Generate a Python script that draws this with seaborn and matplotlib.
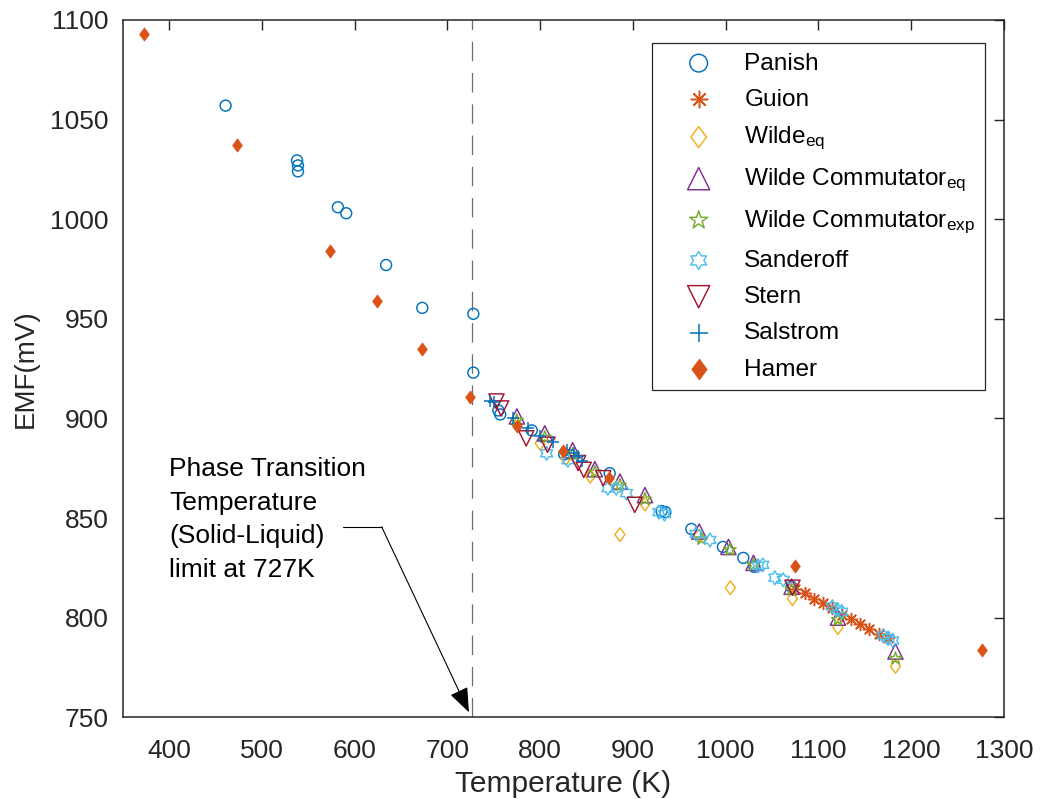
import warnings
warnings.filterwarnings('ignore')
import numpy as np
import pandas as pd
import matplotlib
matplotlib.use('Agg')
import matplotlib.pyplot as plt
import seaborn as sns
from matplotlib.path import Path

# ---------------- data (Temperature K, EMF mV) ----------------
panish_T = [461, 538, 539, 539, 582, 591, 634, 673, 728, 728, 755, 757, 791, 826, 875,
            931, 935, 963, 997, 1019, 1031, 1071]
panish_E = [1057, 1029.5, 1027, 1024, 1006, 1003, 977, 955.5, 952.5, 923, 904, 902, 894, 882, 872.5,
            853.5, 853, 844.5, 835.5, 830, 825.5, 815.5]

guion_T = [1075, 1085, 1095, 1105, 1115, 1125, 1135, 1145, 1155, 1165, 1175]
guion_E = [814.5, 812.3, 809.5, 807.3, 804.7, 801.5, 799.4, 797, 794.2, 791.7, 789.7]

wilde_eq_T = [775, 800, 828, 854, 886, 913, 971, 1005, 1072, 1121, 1183]
wilde_eq_E = [897, 887.5, 880, 871, 841.7, 857, 841, 815, 809.5, 795, 775.5]

wc_eq_T = [775, 805, 835, 859, 886, 913, 971.5, 1003, 1030, 1071, 1121, 1183]
wc_eq_E = [901, 892.5, 884, 874.5, 868.3, 861.5, 843.2, 835.5, 827.5, 815.5, 800, 783]

wc_exp_T = [775, 805, 835, 859, 886, 913, 974, 1004.5, 1030, 1071, 1121, 1183]
wc_exp_E = [899, 890.5, 882, 873, 866.5, 859.5, 839.5, 834, 826.5, 814, 799, 779.5]

sanderoff_T = [807, 830, 873, 882, 893, 928, 934, 968, 983, 1035, 1040, 1053, 1062,
               1115, 1120, 1125, 1170, 1175, 1180]
sanderoff_E = [882.5, 879, 865, 865, 862.5, 853, 852, 842, 839, 826, 826.5, 820, 819,
               805.5, 804, 803, 791, 789.7, 788.5]

stern_T = [753, 758, 785, 808, 841, 847, 868, 902, 1072]
stern_E = [908.5, 905, 890, 886.8, 877.6, 874.2, 870, 856.6, 815]

salstrom_T = [746, 750, 771, 787, 800, 814, 829, 837, 841, 845]
salstrom_E = [908.5, 908, 900.2, 895.2, 891, 888.4, 884, 882.6, 880.9, 878.4]

hamer_T = [373, 473, 573, 624, 673, 724, 775, 825, 874, 1075, 1276]
hamer_E = [1093, 1037, 984, 959, 935, 911, 896, 883.5, 870, 826, 784]

x_ticks = [400, 500, 600, 700, 800, 900, 1000, 1100, 1200, 1300]
y_ticks = [750, 800, 850, 900, 950, 1000, 1050, 1100]
transition_T = 727

# ---------------- marker shapes ----------------
def hexagram_path():
    verts = []
    for k in range(12):
        ang = np.deg2rad(90 + 30 * k)
        r = 1.0 if k % 2 == 0 else 1 / np.sqrt(3)
        verts.append((r * np.cos(ang), r * np.sin(ang)))
    verts.append(verts[0])
    codes = [Path.MOVETO] + [Path.LINETO] * 11 + [Path.CLOSEPOLY]
    return Path(verts, codes)

def diamond_path(w=0.74):
    verts = [(0, 1), (w, 0), (0, -1), (-w, 0), (0, 1)]
    codes = [Path.MOVETO, Path.LINETO, Path.LINETO, Path.LINETO, Path.CLOSEPOLY]
    return Path(verts, codes)

HEX = hexagram_path()
DIA = diamond_path()
AST = (8, 2, 0)

# ---------------- style ----------------
sns.set_theme(style='white')
plt.rcParams['font.family'] = ['Liberation Sans', 'DejaVu Sans']
plt.rcParams['mathtext.fontset'] = 'custom'
plt.rcParams['mathtext.rm'] = 'Liberation Sans'
plt.rcParams['mathtext.it'] = 'Liberation Sans:italic'
plt.rcParams['lines.scale_dashes'] = False

AX_COL = '#262626'
fig = plt.figure(figsize=(10.4, 7.99), dpi=100)
ax = fig.add_axes([0.1179, 0.1023, 0.8475, 0.8727])

# label, T, E, marker, colour, fill mode, plot size, legend size
series = [
    ('Panish', panish_T, panish_E, 'o', '#0072BD', False, 62, 162),
    ('Guion', guion_T, guion_E, AST, '#D95319', None, 75, 140),
    (r'Wilde$_{\mathrm{eq}}$', wilde_eq_T, wilde_eq_E, DIA, '#EDB120', False, 95, 228),
    (r'Wilde Commutator$_{\mathrm{eq}}$', wc_eq_T, wc_eq_E, '^', '#7E2F8E', False, 120, 255),
    (r'Wilde Commutator$_{\mathrm{exp}}$', wc_exp_T, wc_exp_E, '*', '#77AC30', False, 90, 186),
    ('Sanderoff', sanderoff_T, sanderoff_E, HEX, '#4DBEEE', False, 100, 169),
    ('Stern', stern_T, stern_E, 'v', '#A2142F', False, 120, 255),
    ('Salstrom', salstrom_T, salstrom_E, '+', '#0072BD', None, 70, 150),
    ('Hamer', hamer_T, hamer_E, DIA, '#D95319', True, 88, 222),
]

for i, (lab, T, E, mk, col, filled, s, _) in enumerate(series):
    df = pd.DataFrame({'Temperature': T, 'EMF': E})
    kw = dict(data=df, x='Temperature', y='EMF', ax=ax, marker=mk, s=s, label=lab,
              zorder=3 + i)
    if filled is None:
        kw.update(color=col, linewidth=1.1)
    elif filled:
        kw.update(color=col, edgecolor=col, linewidth=0.6)
    else:
        kw.update(color=col, facecolor='none', edgecolor=col, linewidth=1.05)
    sns.scatterplot(**kw)

# transition line
ax.axvline(transition_T, color='#6e6e6e', lw=0.9, dashes=(14, 8.5), zorder=1)

# annotation
ax.text(400, 880.5, 'Phase Transition\nTemperature\n(Solid-Liquid)\nlimit at 727K',
        fontsize=19, color='black', va='top', ha='left', linespacing=1.5)
ax.plot([587.5, 629.2], [845.6, 845.6], color='black', lw=0.8, zorder=2)
ax.annotate('', xy=(723.3, 752.5), xytext=(629.2, 845.6),
            arrowprops=dict(arrowstyle='-|>,head_length=0.9,head_width=0.35',
                            color='black', lw=0.8, shrinkA=0, shrinkB=0,
                            mutation_scale=17))

ax.set_xlim(350, 1300)
ax.set_ylim(750, 1100)
ax.set_xticks(x_ticks)
ax.set_yticks(y_ticks)
ax.tick_params(direction='in', length=7, width=1.0, top=True, right=True,
               labelsize=19, colors=AX_COL)
ax.tick_params(axis='x', pad=16)
ax.tick_params(axis='y', pad=10)
for sp in ax.spines.values():
    sp.set_color(AX_COL)
    sp.set_linewidth(1.1)
    sp.set_visible(True)

ax.set_xlabel('Temperature (K)', fontsize=21.5, color=AX_COL, labelpad=5)
ax.set_ylabel('EMF(mV)', fontsize=20, color=AX_COL, labelpad=8)

leg = ax.legend(loc='upper right', bbox_to_anchor=(0.9784, 0.9675), frameon=True,
                fancybox=False, edgecolor=AX_COL, framealpha=1, borderpad=0.4,
                handlelength=3.0, handletextpad=0.37, labelspacing=0.58,
                markerscale=1.0, fontsize=17.6, borderaxespad=0)
leg.get_frame().set_linewidth(0.9)
for h, ser in zip(leg.legend_handles, series):
    h.set_sizes([ser[7]])
for t in leg.get_texts():
    t.set_color('black')

fig.savefig('out.png', dpi=100)
